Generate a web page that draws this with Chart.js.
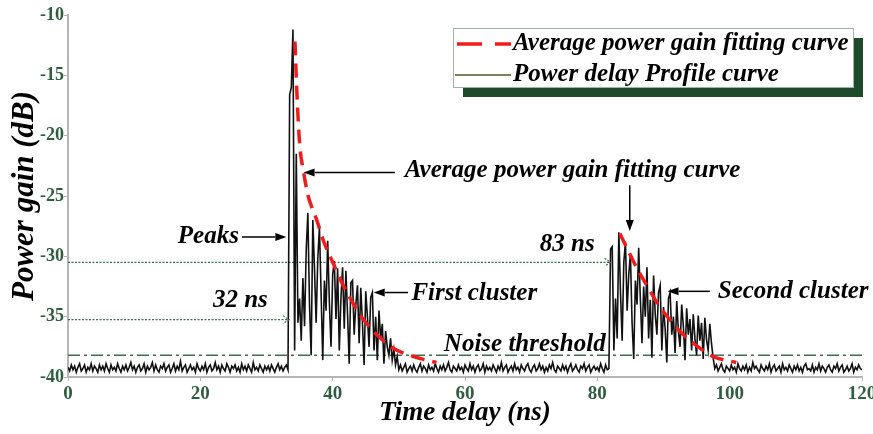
<!DOCTYPE html>
<html>
<head>
<meta charset="utf-8">
<script src="https://cdn.jsdelivr.net/npm/chart.js@4.4.0/dist/chart.umd.min.js"></script>
<style>
  html, body { margin: 0; padding: 0; overflow: hidden; background: #fff; }
  #wrap { width: 890px; height: 434px; }
</style>
</head>
<body>
<div id="wrap"><canvas id="myChart"></canvas></div>
<script>
// power delay profile, one sample every 0.25 ns (0 .. 120 ns)
const SAMPLE_NS = 0.25;
const pdpGainDb = [
  // 0 ns
  -39.2,-39.5,-39.0,-39.4,-39.1,-39.6,-39.2,-38.9,-39.5,-39.3,-39.0,-39.6,-39.2,-39.4,-38.9,-39.5,-39.1,-39.3,-39.6,-39.0,
  // 5 ns
  -39.4,-39.1,-39.5,-38.9,-39.3,-39.6,-39.0,-39.4,-39.2,-39.5,-38.9,-39.3,-39.6,-39.1,-39.4,-39.0,-39.5,-39.2,-38.8,-39.4,
  // 10 ns
  -39.1,-39.6,-39.2,-39.0,-39.5,-39.3,-38.9,-39.6,-39.1,-39.4,-39.2,-38.8,-39.5,-39.0,-39.4,-39.6,-39.1,-39.3,-38.9,-39.5,
  // 15 ns
  -39.2,-39.0,-39.6,-39.3,-38.9,-39.5,-39.1,-39.4,-38.7,-39.5,-39.2,-39.0,-39.6,-39.3,-39.0,-39.4,-39.2,-39.6,-38.9,-39.3,
  // 20 ns
  -39.5,-39.1,-39.4,-38.9,-39.6,-39.2,-39.0,-39.5,-39.3,-38.8,-39.4,-39.1,-39.6,-39.0,-39.3,-39.5,-38.9,-39.2,-39.6,-39.1,
  // 25 ns
  -39.3,-39.0,-39.5,-39.2,-39.6,-38.9,-39.4,-39.1,-39.5,-39.0,-39.3,-39.6,-38.8,-39.4,-39.2,-39.5,-39.0,-39.3,-39.6,-39.1,
  // 30 ns (peaks at ~33.5 ns)
  -39.4,-39.1,-39.5,-39.0,-39.3,-39.6,-39.2,-38.9,-39.4,-39.1,-39.5,-39.2,-39.0,-39.4,-16.6,-16.0,-11.2,-37.8,-21.5,-35.5,
  // 35 ns  first cluster
  -33.5,-37.0,-31.8,-35.8,-29.5,-26.4,-34.0,-38.2,-27.0,-31.0,-35.5,-30.2,-27.6,-33.0,-38.6,-32.0,-34.5,-28.7,-33.8,-37.5,
  // 40 ns
  -31.5,-30.4,-35.2,-31.0,-37.8,-33.5,-30.9,-36.0,-31.2,-34.8,-38.9,-32.2,-32.0,-36.5,-34.0,-32.4,-37.2,-32.6,-35.5,-39.0,
  // 45 ns
  -32.9,-35.0,-37.5,-33.4,-33.0,-37.8,-35.0,-38.6,-34.5,-36.8,-35.6,-38.9,-36.2,-37.5,-38.2,-36.8,-38.6,-37.7,-39.0,-38.3,
  // 50 ns
  -39.4,-39.0,-39.5,-39.2,-38.9,-39.6,-39.3,-39.1,-39.5,-39.0,-39.4,-39.6,-39.2,-38.9,-39.5,-39.1,-39.3,-39.6,-39.0,-39.4,
  // 55 ns
  -39.2,-39.5,-38.9,-39.3,-39.6,-39.1,-39.4,-39.0,-39.5,-39.2,-38.8,-39.4,-39.6,-39.1,-39.3,-39.5,-39.0,-39.4,-39.2,-39.6,
  // 60 ns
  -39.0,-39.3,-39.5,-38.9,-39.4,-39.1,-39.6,-39.2,-39.0,-39.5,-39.3,-38.9,-39.6,-39.1,-39.4,-39.2,-39.5,-39.0,-39.3,-39.6,
  // 65 ns
  -39.1,-39.4,-38.8,-39.5,-39.2,-39.0,-39.6,-39.3,-39.1,-39.5,-38.9,-39.4,-39.2,-39.6,-39.0,-39.3,-39.5,-39.1,-38.9,-39.4,
  // 70 ns
  -39.6,-39.2,-39.0,-39.5,-39.3,-38.9,-39.4,-39.1,-39.6,-39.2,-39.5,-39.0,-39.3,-38.8,-39.4,-39.6,-39.1,-39.3,-39.5,-39.0,
  // 75 ns
  -39.4,-39.1,-39.6,-39.2,-38.9,-39.5,-39.3,-39.0,-39.4,-39.6,-39.1,-39.3,-38.9,-39.5,-39.2,-39.0,-39.6,-39.3,-39.1,-39.4,
  // 80 ns  second cluster starts at 82 ns
  -39.2,-39.5,-38.9,-39.3,-39.6,-39.0,-39.4,-39.3,-29.4,-29.2,-37.8,-33.5,-36.8,-28.0,-33.0,-37.0,-30.5,-28.8,-34.5,-31.5,
  // 85 ns
  -29.8,-35.5,-38.5,-32.0,-34.0,-29.3,-33.5,-37.2,-32.5,-35.0,-30.9,-36.8,-33.6,-38.4,-31.6,-34.8,-36.5,-33.0,-32.4,-37.8,
  // 90 ns
  -34.2,-36.0,-38.8,-33.5,-33.0,-36.5,-35.0,-38.0,-33.7,-36.2,-37.5,-34.0,-35.8,-38.6,-34.3,-36.5,-35.2,-37.8,-34.8,-36.8,
  // 95 ns
  -38.2,-34.9,-37.0,-35.5,-38.5,-35.1,-36.9,-37.8,-35.6,-37.2,-38.4,-39.3,-39.0,-39.5,-39.2,-38.9,-39.4,-39.6,-39.1,-39.3,
  // 100 ns
  -39.5,-39.0,-39.4,-39.2,-39.6,-38.9,-39.3,-39.5,-39.1,-39.4,-39.0,-39.6,-39.2,-39.5,-38.8,-39.3,-39.1,-39.4,-39.6,-39.0,
  // 105 ns
  -39.3,-39.5,-39.1,-39.4,-38.9,-39.6,-39.2,-39.0,-39.5,-39.3,-39.1,-39.6,-38.9,-39.4,-39.2,-39.5,-39.0,-39.3,-39.6,-39.1,
  // 110 ns
  -39.4,-39.0,-39.5,-39.2,-39.6,-39.1,-38.9,-39.4,-39.3,-39.5,-39.0,-39.6,-39.2,-39.4,-38.9,-39.5,-39.1,-39.3,-39.6,-39.2,
  // 115 ns
  -39.0,-39.4,-39.6,-39.1,-39.3,-38.9,-39.5,-39.2,-39.0,-39.6,-39.4,-39.1,-39.5,-39.3,-38.9,-39.6,-39.2,-39.4,-39.0,-39.3,
  // 120 ns
  -39.4
];

// average power gain fitting curves
const fit1Ns = [34.3, 34.6, 35.0, 35.6, 36.3, 37.1, 37.6, 38.6, 40.1, 41.4, 43.1, 44.6, 46.7, 49.1, 52.2, 55.7];
const fit1Db = [-12.2, -16.5, -20.6, -23.0, -25.0, -26.3, -27.0, -28.7, -30.6, -32.2, -33.9, -35.2, -36.5, -37.6, -38.3, -38.8];
const fit2Ns = [83.4, 85.0, 86.0, 88.0, 89.2, 91.2, 93.0, 95.0, 97.5, 101.0];
const fit2Db = [-28.1, -29.9, -31.0, -32.9, -34.0, -35.4, -36.5, -37.4, -38.3, -38.8];

// reference levels
const noiseThresholdDb = -38.2;
const firstArrivalNs = 33.4;   // "32 ns"
const firstArrivalDb = -35.25;
const secondArrivalNs = 82.0;  // "83 ns"
const secondArrivalDb = -30.5;

const xTicks = [0, 20, 40, 60, 80, 100, 120];
const yTicks = [-40, -35, -30, -25, -20, -15, -10];

// ---------------------------------------------------------

const serif = '"Liberation Serif", "Times New Roman", serif';
const tickGreen = '#2f5d3f';
const lineGreen = '#3d6e4f';
const fitRed = '#f01c1c';
const noteFont = 'italic bold 25px ' + serif;

const pdpPoints = pdpGainDb.map((v, i) => ({ x: i * SAMPLE_NS, y: v }));
const fit1Points = fit1Ns.map((t, i) => ({ x: t, y: fit1Db[i] }));
const fit2Points = fit2Ns.map((t, i) => ({ x: t, y: fit2Db[i] }));

// text labels and arrows, in data units
const notes = [
  { text: 'Average power gain fitting curve', ns: 50.9, db: -22.9 },
  { text: 'Peaks', ns: 16.6, db: -28.4 },
  { text: '83 ns', ns: 71.3, db: -29.0 },
  { text: '32 ns', ns: 21.9, db: -33.7 },
  { text: 'First cluster', ns: 51.9, db: -33.1 },
  { text: 'Second cluster', ns: 98.2, db: -32.9 },
  { text: 'Noise threshold', ns: 56.8, db: -37.3 }
];
const arrows = [
  { from: [49.4, -23.05], to: [35.6, -23.05] },
  { from: [26.3, -28.4], to: [33.0, -28.4] },
  { from: [51.4, -33.0], to: [46.2, -33.0] },
  { from: [97.0, -32.9], to: [90.6, -32.9] },
  { from: [84.9, -24.1], to: [84.9, -27.9] }
];

function drawArrow(ctx, x1, y1, x2, y2) {
  const a = Math.atan2(y2 - y1, x2 - x1);
  const len = 11, half = 4;
  ctx.save();
  ctx.strokeStyle = '#000';
  ctx.fillStyle = '#000';
  ctx.lineWidth = 1.5;
  ctx.beginPath();
  ctx.moveTo(x1, y1);
  ctx.lineTo(x2 - Math.cos(a) * len, y2 - Math.sin(a) * len);
  ctx.stroke();
  ctx.beginPath();
  ctx.moveTo(x2, y2);
  ctx.lineTo(x2 - Math.cos(a) * len - Math.sin(a) * half, y2 - Math.sin(a) * len + Math.cos(a) * half);
  ctx.lineTo(x2 - Math.cos(a) * len + Math.sin(a) * half, y2 - Math.sin(a) * len - Math.cos(a) * half);
  ctx.closePath();
  ctx.fill();
  ctx.restore();
}

function drawChevron(ctx, x, y) {
  ctx.save();
  ctx.strokeStyle = lineGreen;
  ctx.lineWidth = 1.2;
  ctx.setLineDash([2, 1.5]);
  ctx.beginPath();
  ctx.moveTo(x - 6, y - 4);
  ctx.lineTo(x, y);
  ctx.lineTo(x - 6, y + 4);
  ctx.stroke();
  ctx.restore();
}

const annotationPlugin = {
  id: 'annotations',
  afterDatasetsDraw(chart) {
    const ctx = chart.ctx;
    const xs = chart.scales.x, ys = chart.scales.y;
    ctx.save();
    ctx.font = noteFont;
    ctx.fillStyle = '#000';
    ctx.textBaseline = 'middle';
    ctx.textAlign = 'left';
    notes.forEach(n => {
      ctx.fillText(n.text, xs.getPixelForValue(n.ns), ys.getPixelForValue(n.db));
    });
    ctx.restore();
    arrows.forEach(a => {
      drawArrow(ctx, xs.getPixelForValue(a.from[0]), ys.getPixelForValue(a.from[1]),
        xs.getPixelForValue(a.to[0]), ys.getPixelForValue(a.to[1]));
    });
    drawChevron(ctx, xs.getPixelForValue(firstArrivalNs), ys.getPixelForValue(firstArrivalDb));
    drawChevron(ctx, xs.getPixelForValue(secondArrivalNs), ys.getPixelForValue(secondArrivalDb));
  }
};

// legend box with the dark shadow
const legendBoxPlugin = {
  id: 'legendBox',
  afterDraw(chart) {
    const ctx = chart.ctx;
    const x = 453, y = 28, w = 400, h = 59;
    ctx.save();
    ctx.fillStyle = '#1d4a2b';
    ctx.fillRect(x + 10, y + 10, w, h);
    ctx.fillStyle = '#fff';
    ctx.fillRect(x, y, w, h);
    ctx.strokeStyle = '#9fb4a6';
    ctx.lineWidth = 1;
    ctx.strokeRect(x + 0.5, y + 0.5, w, h);

    ctx.lineWidth = 3.5;
    ctx.strokeStyle = fitRed;
    ctx.setLineDash([25, 13]);
    ctx.beginPath();
    ctx.moveTo(457, 44);
    ctx.lineTo(511, 44);
    ctx.stroke();
    ctx.setLineDash([]);
    ctx.lineWidth = 1.5;
    ctx.strokeStyle = '#55552f';
    ctx.beginPath();
    ctx.moveTo(455, 75);
    ctx.lineTo(511, 75);
    ctx.stroke();

    ctx.font = noteFont;
    ctx.fillStyle = '#000';
    ctx.textBaseline = 'middle';
    ctx.fillText(chart.data.datasets[0].label, 513, 44);
    ctx.fillText(chart.data.datasets[2].label, 513, 75);
    ctx.restore();
  }
};

const myChart = document.getElementById('myChart').getContext('2d');

new Chart(myChart, {
  type: 'line',
  data: {
    datasets: [
      {
        label: 'Average power gain fitting curve',
        data: fit1Points,
        borderColor: fitRed,
        borderWidth: 3.5,
        borderDash: [14, 8],
        cubicInterpolationMode: 'monotone',
        pointRadius: 0,
        order: 0
      },
      {
        label: 'fit 2',
        data: fit2Points,
        borderColor: fitRed,
        borderWidth: 3.5,
        borderDash: [14, 8],
        cubicInterpolationMode: 'monotone',
        pointRadius: 0,
        order: 0
      },
      {
        label: 'Power delay Profile curve',
        data: pdpPoints,
        borderColor: '#111',
        borderWidth: 1.6,
        tension: 0,
        pointRadius: 0,
        order: 2
      },
      {
        label: 'noise threshold',
        data: [{ x: xTicks[0], y: noiseThresholdDb }, { x: xTicks[xTicks.length - 1], y: noiseThresholdDb }],
        borderColor: lineGreen,
        borderWidth: 1.5,
        borderDash: [12, 4, 3, 4],
        pointRadius: 0,
        order: 3
      },
      {
        label: '32 ns',
        data: [{ x: xTicks[0], y: firstArrivalDb }, { x: firstArrivalNs, y: firstArrivalDb }],
        borderColor: lineGreen,
        borderWidth: 1.2,
        borderDash: [2, 1.5],
        pointRadius: 0,
        order: 3
      },
      {
        label: '83 ns',
        data: [{ x: xTicks[0], y: secondArrivalDb }, { x: secondArrivalNs, y: secondArrivalDb }],
        borderColor: lineGreen,
        borderWidth: 1.2,
        borderDash: [2, 1.5],
        pointRadius: 0,
        order: 3
      }
    ]
  },
  options: {
    responsive: true,
    maintainAspectRatio: false,
    animation: false,
    layout: { padding: { top: 15, right: 28, bottom: 0, left: 0 } },
    plugins: {
      legend: { display: false },
      tooltip: { enabled: false }
    },
    scales: {
      x: {
        type: 'linear',
        min: xTicks[0],
        max: xTicks[xTicks.length - 1],
        afterBuildTicks: s => { s.ticks = xTicks.map(v => ({ value: v })); },
        afterFit: s => { s.height = 57; },
        ticks: {
          autoSkip: false,
          maxRotation: 0,
          padding: 2,
          color: tickGreen,
          font: { family: serif, size: 19, weight: 'bold' }
        },
        grid: { drawOnChartArea: false, tickLength: 4, color: '#b5b5b5' },
        border: { color: '#b5b5b5', width: 2 },
        title: {
          display: true,
          text: 'Time delay (ns)',
          color: '#000',
          font: { family: serif, size: 27, weight: 'bold', style: 'italic' },
          padding: { top: 0, bottom: 5 }
        }
      },
      y: {
        type: 'linear',
        min: yTicks[0],
        max: yTicks[yTicks.length - 1],
        afterBuildTicks: s => { s.ticks = yTicks.map(v => ({ value: v })); },
        afterFit: s => { s.width = 68; },
        ticks: {
          autoSkip: false,
          padding: 0,
          color: tickGreen,
          font: { family: serif, size: 18, weight: 'bold' }
        },
        grid: { drawOnChartArea: false, tickLength: 4, color: '#b5b5b5' },
        border: { color: '#b5b5b5', width: 2 },
        title: {
          display: true,
          text: 'Power gain (dB)',
          color: '#000',
          font: { family: serif, size: 31, weight: 'bold', style: 'italic' },
          padding: { top: 6, bottom: 0 }
        }
      }
    }
  },
  plugins: [annotationPlugin, legendBoxPlugin]
});
</script>
</body>
</html>
